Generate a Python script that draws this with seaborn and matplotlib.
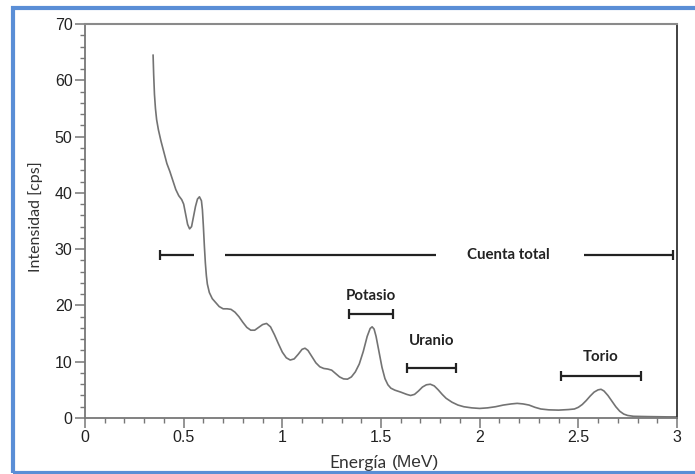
import matplotlib
matplotlib.use("Agg")
import matplotlib.pyplot as plt
import seaborn as sns
import pandas as pd
from matplotlib.patches import Rectangle
from matplotlib.ticker import MultipleLocator

# ---- data ----
energy = [0.345, 0.348, 0.352, 0.357, 0.363, 0.372, 0.385, 0.40, 0.415, 0.43,
          0.445, 0.46, 0.475, 0.49, 0.50, 0.51, 0.52, 0.53, 0.54, 0.55,
          0.56, 0.57, 0.58, 0.59, 0.595, 0.60, 0.605, 0.61, 0.615, 0.62,
          0.63, 0.645, 0.66, 0.68, 0.70, 0.72, 0.74, 0.76, 0.78, 0.80,
          0.82, 0.84, 0.86, 0.88, 0.90, 0.92, 0.94, 0.96, 0.98, 1.00,
          1.02, 1.04, 1.06, 1.08, 1.10, 1.115, 1.13, 1.15, 1.17, 1.19,
          1.21, 1.23, 1.25, 1.27, 1.29, 1.31, 1.33, 1.35, 1.37, 1.39,
          1.41, 1.43, 1.445, 1.455, 1.465, 1.475, 1.49, 1.505, 1.52, 1.535,
          1.55, 1.57, 1.60, 1.63, 1.65, 1.67, 1.69, 1.71, 1.73, 1.75,
          1.77, 1.79, 1.81, 1.83, 1.86, 1.89, 1.92, 1.96, 2.00, 2.04,
          2.08, 2.12, 2.16, 2.19, 2.22, 2.25, 2.28, 2.31, 2.35, 2.40,
          2.45, 2.48, 2.50, 2.52, 2.54, 2.56, 2.58, 2.60, 2.615, 2.63,
          2.65, 2.67, 2.69, 2.71, 2.73, 2.75, 2.78, 2.85, 2.95, 3.00]
intensity = [64.5, 61.0, 57.5, 55.0, 53.0, 51.2, 49.2, 47.2, 45.2, 43.8,
             42.2, 40.6, 39.5, 38.8, 38.0, 36.2, 34.4, 33.6, 34.0, 35.8,
             37.6, 38.9, 39.3, 38.6, 37.0, 34.0, 30.5, 27.5, 25.3, 23.8,
             22.3, 21.2, 20.6, 19.8, 19.4, 19.4, 19.3, 18.8, 18.0, 17.0,
             16.1, 15.6, 15.6, 16.1, 16.6, 16.8, 16.2, 14.8, 13.2, 11.7,
             10.7, 10.3, 10.5, 11.3, 12.2, 12.4, 12.0, 10.9, 9.8, 9.1,
             8.8, 8.7, 8.5, 7.9, 7.3, 6.95, 6.9, 7.3, 8.2, 9.6,
             11.8, 14.5, 15.9, 16.2, 15.8, 14.5, 11.8, 9.0, 7.0, 5.9,
             5.3, 4.95, 4.6, 4.2, 4.0, 4.2, 4.8, 5.5, 5.9, 6.0,
             5.7, 5.0, 4.2, 3.5, 2.8, 2.3, 2.0, 1.8, 1.7, 1.8,
             2.0, 2.3, 2.5, 2.6, 2.5, 2.3, 1.9, 1.6, 1.45, 1.4,
             1.5, 1.6, 1.9, 2.4, 3.1, 3.9, 4.6, 5.0, 5.1, 4.8,
             4.0, 3.0, 2.0, 1.2, 0.7, 0.45, 0.3, 0.25, 0.2, 0.2]

# energy windows (label, start, end, bar level, label level)
window_labels = ["Potasio", "Uranio", "Torio"]
window_start = [1.34, 1.63, 2.41]
window_end = [1.56, 1.88, 2.82]
window_level = [18.4, 8.9, 7.5]
window_text_level = [21.6, 13.6, 10.8]

total_label = "Cuenta total"
total_start, total_end = 0.38, 2.98
total_level = 29.0
total_gap1 = (0.55, 0.71)   # gap around the curve
total_gap2 = (1.78, 2.53)   # gap around the label
total_text_x = 2.145

x_ticks = [0, 0.5, 1, 1.5, 2, 2.5, 3]
x_ticklabels = ["0", "0.5", "1", "1.5", "2", "2.5", "3"]
y_ticks = [0, 10, 20, 30, 40, 50, 60, 70]

# ---- figure ----
sns.set_style("white")
plt.rcParams['font.family'] = ['Liberation Sans', 'DejaVu Sans']

fig = plt.figure(figsize=(6.95, 4.74), dpi=100)
ax = fig.add_axes([85/695, 56/474, 592/695, 394/474])

df = pd.DataFrame({"Energía": energy, "Intensidad": intensity})
sns.lineplot(data=df, x="Energía", y="Intensidad", ax=ax, color="#737373",
             lw=1.2, sort=False, estimator=None)

bar_kw = dict(color="#222222", lw=1.6, solid_capstyle="butt")
cap_kw = dict(marker="|", ms=7, mew=1.6, color="#222222", ls="none")
lab_kw = dict(ha="center", va="center", fontsize=10.8, fontweight="bold",
              family=["Lato", "DejaVu Sans"], color="#222222")

# Cuenta total
ax.plot([total_start, total_gap1[0]], [total_level]*2, **bar_kw)
ax.plot([total_gap1[1], total_gap2[0]], [total_level]*2, **bar_kw)
ax.plot([total_gap2[1], total_end], [total_level]*2, **bar_kw)
ax.plot([total_start, total_end], [total_level]*2, **cap_kw)
ax.text(total_text_x, total_level, total_label, **lab_kw)

for lab, s, e, lv, tl in zip(window_labels, window_start, window_end,
                             window_level, window_text_level):
    ax.plot([s, e], [lv, lv], **bar_kw)
    ax.plot([s, e], [lv, lv], **cap_kw)
    ax.text((s + e) / 2, tl, lab, **lab_kw)

ax.set_xlim(0, 3)
ax.set_ylim(0, 70)
ax.set_xticks(x_ticks)
ax.set_xticklabels(x_ticklabels)
ax.set_yticks(y_ticks)
ax.xaxis.set_minor_locator(MultipleLocator(0.1))
ax.yaxis.set_minor_locator(MultipleLocator(2))
ax.tick_params(which="major", direction="out", length=7, width=1.1,
               color="#777777", labelsize=11.5, labelcolor="#222222", pad=2)
ax.tick_params(which="minor", direction="out", length=3.5, width=1.0,
               color="#777777")
ax.tick_params(axis="x", which="both", bottom=True)
ax.tick_params(axis="y", which="both", left=True)

for side in ["left", "bottom"]:
    ax.spines[side].set_color("#777777")
    ax.spines[side].set_linewidth(1.3)
ax.spines["top"].set_color("#8a8a8a")
ax.spines["top"].set_linewidth(1.5)
ax.spines["right"].set_color("#333333")
ax.spines["right"].set_linewidth(1.3)

ax.set_xlabel("")
ax.set_ylabel("Intensidad [cps]", fontsize=11.5, color="#333333",
              family=["Lato", "DejaVu Sans"])
ax.yaxis.set_label_coords(-0.071, 0.51)

ax.text(0.51, -0.114, "Energía", transform=ax.transAxes, ha="right",
        va="center", fontsize=12.5, color="#333333",
        family=["Lato", "DejaVu Sans"])
ax.text(0.518, -0.114, "(MeV)", transform=ax.transAxes, ha="left",
        va="center", fontsize=12.5, color="#333333",
        family=["Liberation Sans", "DejaVu Sans"])

# blue frame around the figure
fig.patches.append(Rectangle((13/695, 1.5/474), 700/695, (466-1.5)/474,
                             transform=fig.transFigure, fill=False,
                             edgecolor="#5a8ed6", lw=3, zorder=10))

fig.savefig("out.png", dpi=100)
